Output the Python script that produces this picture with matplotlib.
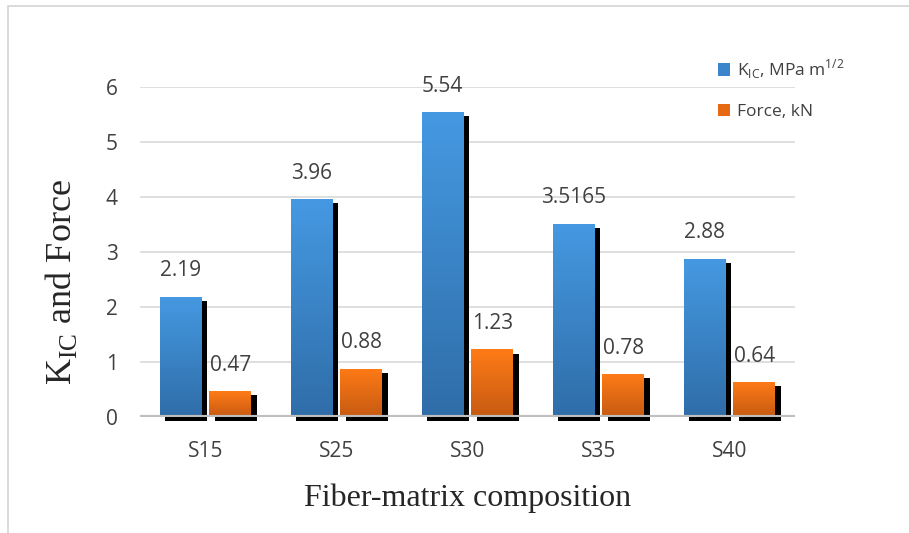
import numpy as np
import matplotlib.pyplot as plt
import matplotlib.patheffects as pe
from matplotlib.colors import LinearSegmentedColormap
from matplotlib.patches import Patch, Rectangle

categories = ["S15", "S25", "S30", "S35", "S40"]
kic = [2.19, 3.96, 5.54, 3.5165, 2.88]
force = [0.47, 0.88, 1.23, 0.78, 0.64]
kic_labels = ["2.19", "3.96", "5.54", "3.5165", "2.88"]
force_labels = ["0.47", "0.88", "1.23", "0.78", "0.64"]

blue_grad = LinearSegmentedColormap.from_list("blue", ["#2F6DA8", "#4599E2"])
orange_grad = LinearSegmentedColormap.from_list("orange", ["#C65A12", "#FF7B16"])

plt.rcParams['font.family'] = ['Open Sans', 'DejaVu Sans']

fig = plt.figure(figsize=(9.09, 5.33), dpi=100)
ax = fig.add_axes([140 / 909, 1 - 417 / 533, 655 / 909, 330 / 533])

# thin frame around the chart area (only top and left edges show)
fig.patches.append(Rectangle((8 / 909, -0.1), 1.2, 1 - 6 / 533 + 0.1,
                             transform=fig.transFigure, fill=False,
                             edgecolor="#D4D4D4", linewidth=1.2))

x = np.arange(len(categories))
w = 0.32
off = 0.19
shadow = [pe.SimplePatchShadow(offset=(3.8, -3.0), shadow_rgbFace="black", alpha=1.0), pe.Normal()]

grad = np.linspace(0, 1, 256).reshape(-1, 1)


def draw_bars(xs, vals, cmap):
    bars = ax.bar(xs, vals, w, color=cmap(0.5), zorder=3, clip_on=False)
    for b in bars:
        b.set_path_effects(shadow)
        x0, y0 = b.get_x(), b.get_y()
        im = ax.imshow(grad, cmap=cmap, origin="lower", aspect="auto",
                       extent=(x0, x0 + b.get_width(), y0, y0 + b.get_height()),
                       zorder=3.5)
        im.set_clip_path(b)
    return bars


draw_bars(x - off, kic, blue_grad)
draw_bars(x + off, force, orange_grad)

for xi, v, s in zip(x - off, kic, kic_labels):
    ax.annotate(s, (xi, v), xytext=(0, 11), textcoords="offset points",
                ha="center", va="bottom", fontsize=15, color="#404040")
for xi, v, s in zip(x + off, force, force_labels):
    ax.annotate(s, (xi, v), xytext=(0, 11), textcoords="offset points",
                ha="center", va="bottom", fontsize=15, color="#404040")

ax.set_xlim(-0.5, 4.5)
ax.set_ylim(0, 6)
ax.set_yticks(range(7))
ax.set_xticks(x)
ax.set_xticklabels(categories)
ax.yaxis.grid(True, color="#D9D9D9", linewidth=1.2, zorder=0)
ax.axhline(0, color="#BFBFBF", linewidth=3, zorder=5)
ax.set_axisbelow(True)
for sp in ax.spines.values():
    sp.set_visible(False)
ax.tick_params(axis="both", length=0, labelsize=15, labelcolor="#404040")
ax.tick_params(axis="x", pad=17)
ax.tick_params(axis="y", pad=16)

ax.set_xlabel("Fiber-matrix composition", family="Liberation Serif", fontsize=23,
              color="#262626", labelpad=16)
ax.set_ylabel(r"K$_{\mathregular{IC}}$ and Force", family="Liberation Serif", fontsize=26,
              color="#262626")
ax.yaxis.set_label_coords(-0.093, 0.41)

handles = [Patch(facecolor="#3B85CC"), Patch(facecolor="#E66A14")]
labels = [r"K$_{\mathregular{IC}}$, MPa m$^{\mathregular{1/2}}$", "Force, kN"]
leg = fig.legend(handles, labels, loc="upper left", bbox_to_anchor=(702 / 909, 1 - 42 / 533),
                 frameon=False, fontsize=12.5, handlelength=0.7, handleheight=0.7,
                 handletextpad=0.4, labelspacing=1.3, labelcolor="#404040")

fig.savefig("out.png", dpi=100)
